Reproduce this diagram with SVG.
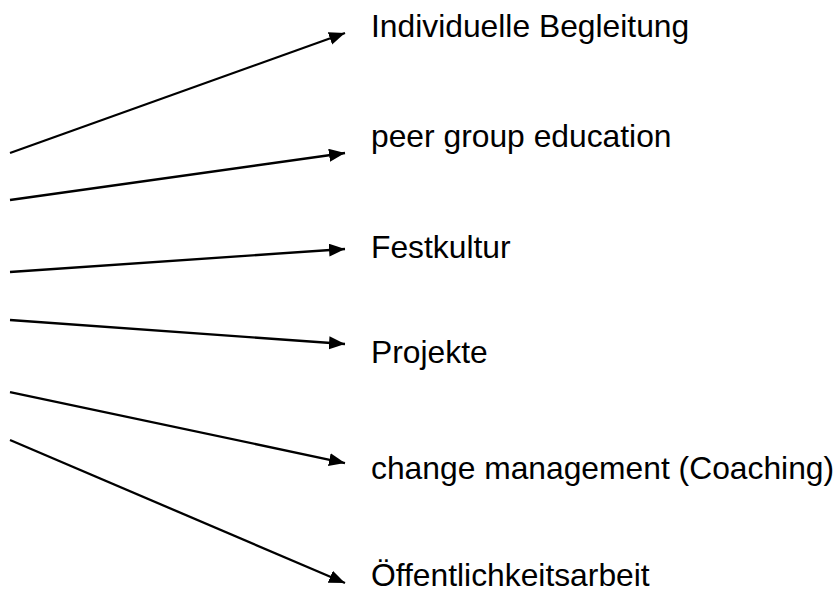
<svg xmlns="http://www.w3.org/2000/svg" width="837" height="592" viewBox="0 0 837 592">
<style>
.lbl{font-family:"Liberation Sans",Arial,sans-serif;font-size:31.8px;fill:#000}
.c{stroke:#000;stroke-width:2.3;fill:none;marker-end:url(#ah)}
</style>
<defs>
<marker id="ah" markerUnits="userSpaceOnUse" markerWidth="18" markerHeight="14" refX="16" refY="6.5" orient="auto">
<path d="M0,0 L16,6.5 L0,13 Z" fill="#000"/>
</marker>
</defs>
<rect width="837" height="592" fill="#fff"/>
<g id="connectors">
<line class="c" x1="10" y1="153" x2="345" y2="33"/>
<line class="c" x1="10" y1="200" x2="345" y2="153"/>
<line class="c" x1="10" y1="272" x2="345" y2="249"/>
<line class="c" x1="10" y1="320" x2="345" y2="344"/>
<line class="c" x1="10" y1="392" x2="345" y2="463"/>
<line class="c" x1="10" y1="440" x2="345" y2="583"/>
</g>
<g id="n1"><text class="lbl" x="371" y="37">Individuelle Begleitung</text></g>
<g id="n2"><text class="lbl" x="371" y="147">peer group education</text></g>
<g id="n3"><text class="lbl" x="371" y="258">Festkultur</text></g>
<g id="n4"><text class="lbl" x="371" y="363">Projekte</text></g>
<g id="n5"><text class="lbl" x="371" y="479">change management (Coaching)</text></g>
<g id="n6"><text class="lbl" x="371" y="586">Öffentlichkeitsarbeit</text></g>
</svg>
